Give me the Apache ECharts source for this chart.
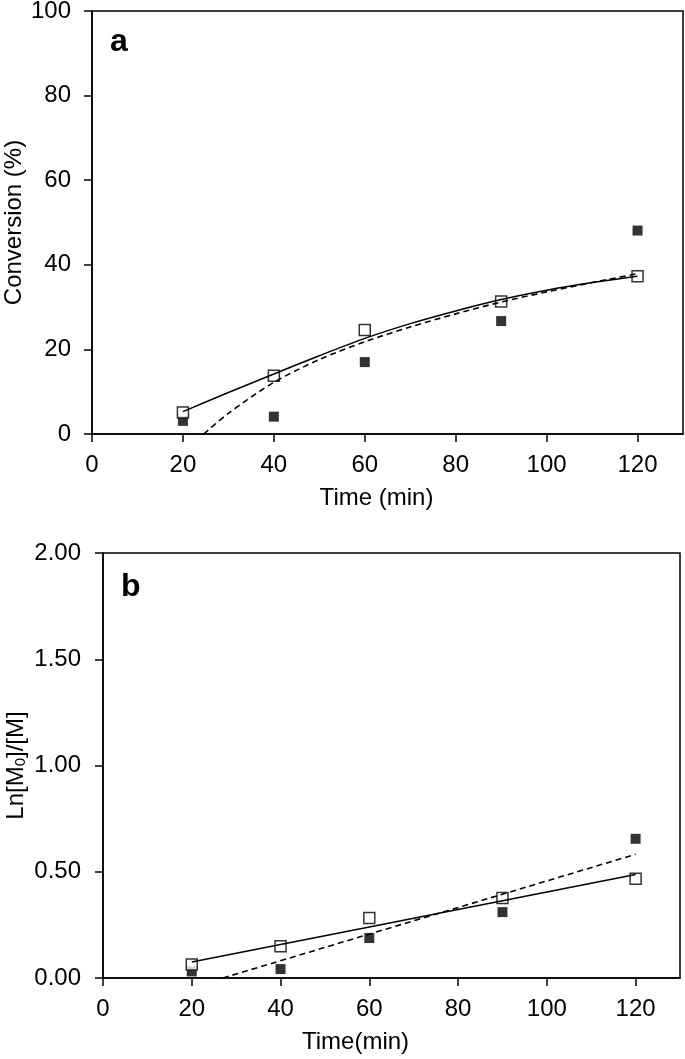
<!DOCTYPE html>
<html>
<head>
<meta charset="utf-8">
<script src="https://cdn.jsdelivr.net/npm/echarts@6/dist/echarts.min.js"></script>
<style>
html,body{margin:0;padding:0;background:#fff;}
#chart{width:685px;height:1059px;}
</style>
</head>
<body>
<div id="chart"></div>
<script>
// ---- Panel a: conversion vs time ----
const timeA = [20, 40, 60, 90, 120];
const convOpen = [5.1, 13.8, 24.6, 31.3, 37.3];
const convFilled = [3.1, 4.1, 17.0, 26.7, 48.1];
const fitSolidTimeA = [20, 30, 40, 50, 60, 70, 80, 90, 100, 110, 120];
const fitSolidConvA = [5.3, 9.8, 14.2, 18.5, 22.6, 26.1, 29.1, 31.8, 34.0, 35.8, 37.3];
const fitDashTimeA = [24.6, 30, 40, 50, 60, 70, 80, 90, 100, 110, 120];
const fitDashConvA = [0, 4.9, 12.2, 17.6, 21.8, 25.3, 28.4, 31.2, 33.6, 35.8, 37.9];

// ---- Panel b: Ln[M0]/[M] vs time ----
const timeB = [20, 40, 60, 90, 120];
const lnOpen = [0.063, 0.149, 0.282, 0.376, 0.467];
const lnFilled = [0.031, 0.042, 0.188, 0.310, 0.655];
const fitSolidTimeB = [20, 120];
const fitSolidLnB = [0.075, 0.487];
const fitDashTimeB = [27.0, 120];
const fitDashLnB = [0, 0.582];

// ---- tick labels ----
const xTicks = [0, 20, 40, 60, 80, 100, 120];
const yTicksA = [0, 20, 40, 60, 80, 100];
const yTicksB = [0, 0.5, 1.0, 1.5, 2.0];

const FONT = 'Liberation Sans, Arial, sans-serif';
const FS = 24;
const zip = (xs, ys) => xs.map((x, i) => [x, ys[i]]);

function xAxisCfg(grid, name) {
  return {
    type: 'value', gridIndex: grid, min: 0, max: 130, interval: 20,
    name: name, nameLocation: 'middle', nameGap: 52, nameMoveOverlap: false,
    nameTextStyle: { color: '#000', fontSize: FS, fontFamily: FONT,
      padding: grid === 0 ? [0, 22, 0, 0] : [0, 72, 0, 0] },
    axisLine: { show: true, onZero: false, lineStyle: { color: '#000', width: 1.5 } },
    axisTick: { show: true, inside: false, length: 8, customValues: xTicks,
      lineStyle: { color: '#000', width: 1.5 } },
    axisLabel: { show: true, margin: 19, color: '#000', fontSize: FS, fontFamily: FONT,
      customValues: xTicks },
    splitLine: { show: false }
  };
}

const option = {
  backgroundColor: '#fff',
  animation: false,
  grid: [
    { left: 92, top: 11, width: 591, height: 423, show: true, borderColor: '#000', borderWidth: 1.5,
      backgroundColor: 'transparent', containLabel: false, outerBoundsMode: 'none' },
    { left: 103, top: 553, width: 577, height: 425, show: true, borderColor: '#000', borderWidth: 1.5,
      backgroundColor: 'transparent', containLabel: false, outerBoundsMode: 'none' }
  ],
  xAxis: [xAxisCfg(0, 'Time (min)'), xAxisCfg(1, 'Time(min)')],
  yAxis: [
    {
      type: 'value', gridIndex: 0, min: 0, max: 100, interval: 20,
      name: 'Conversion (%)', nameLocation: 'middle', nameGap: 66, nameMoveOverlap: false,
      nameTextStyle: { color: '#000', fontSize: FS, fontFamily: FONT },
      axisLine: { show: true, onZero: false, lineStyle: { color: '#000', width: 1.5 } },
      axisTick: { show: true, inside: false, length: 8, customValues: yTicksA,
        lineStyle: { color: '#000', width: 1.5 } },
      axisLabel: { margin: 21, color: '#000', fontSize: FS, fontFamily: FONT, customValues: yTicksA },
      splitLine: { show: false }
    },
    {
      type: 'value', gridIndex: 1, min: 0, max: 2, interval: 0.5,
      name: '{n|Ln[M}{s|0}{n|]/[M]}', nameLocation: 'middle', nameGap: 75, nameMoveOverlap: false,
      nameTextStyle: {
        color: '#000', fontSize: FS, fontFamily: FONT,
        rich: {
          n: { fontSize: FS, fontFamily: FONT, color: '#000', lineHeight: 24, verticalAlign: 'top' },
          s: { fontSize: 15, fontFamily: FONT, color: '#000', lineHeight: 8, verticalAlign: 'bottom' }
        }
      },
      axisLine: { show: true, onZero: false, lineStyle: { color: '#000', width: 1.5 } },
      axisTick: { show: true, inside: false, length: 8, customValues: yTicksB,
        lineStyle: { color: '#000', width: 1.5 } },
      axisLabel: { margin: 22, color: '#000', fontSize: FS, fontFamily: FONT, customValues: yTicksB,
        formatter: v => v.toFixed(2) },
      splitLine: { show: false }
    }
  ],
  graphic: [
    { type: 'text', x: 110, y: 42, style: { text: 'a', fontSize: 32, fontWeight: 'bold', fontFamily: FONT, fill: '#000', verticalAlign: 'middle' } },
    { type: 'text', x: 121, y: 587, style: { text: 'b', fontSize: 32, fontWeight: 'bold', fontFamily: FONT, fill: '#000', verticalAlign: 'middle' } }
  ],
  series: [
    { type: 'line', xAxisIndex: 0, yAxisIndex: 0, data: zip(fitSolidTimeA, fitSolidConvA), smooth: 0.3,
      symbol: 'none', lineStyle: { color: '#000', width: 1.5 } },
    { type: 'line', xAxisIndex: 0, yAxisIndex: 0, data: zip(fitDashTimeA, fitDashConvA), smooth: 0.3,
      symbol: 'none', lineStyle: { color: '#000', width: 1.6, type: [6, 4] } },
    { type: 'scatter', xAxisIndex: 0, yAxisIndex: 0, data: zip(timeA, convFilled), symbol: 'rect', symbolSize: 10,
      itemStyle: { color: '#000' } },
    { type: 'scatter', xAxisIndex: 0, yAxisIndex: 0, data: zip(timeA, convOpen), symbol: 'rect', symbolSize: 11,
      itemStyle: { color: '#fff', borderColor: '#000', borderWidth: 1.5 } },

    { type: 'line', xAxisIndex: 1, yAxisIndex: 1, data: zip(fitSolidTimeB, fitSolidLnB),
      symbol: 'none', lineStyle: { color: '#000', width: 1.5 } },
    { type: 'line', xAxisIndex: 1, yAxisIndex: 1, data: zip(fitDashTimeB, fitDashLnB),
      symbol: 'none', lineStyle: { color: '#000', width: 1.6, type: [6, 4] } },
    { type: 'scatter', xAxisIndex: 1, yAxisIndex: 1, data: zip(timeB, lnFilled), symbol: 'rect', symbolSize: 10,
      itemStyle: { color: '#000' } },
    { type: 'scatter', xAxisIndex: 1, yAxisIndex: 1, data: zip(timeB, lnOpen), symbol: 'rect', symbolSize: 11,
      itemStyle: { color: '#fff', borderColor: '#000', borderWidth: 1.5 } }
  ]
};

const chart = echarts.init(document.getElementById('chart'), null, { renderer: 'canvas' });
chart.setOption(option);
</script>
</body>
</html>
